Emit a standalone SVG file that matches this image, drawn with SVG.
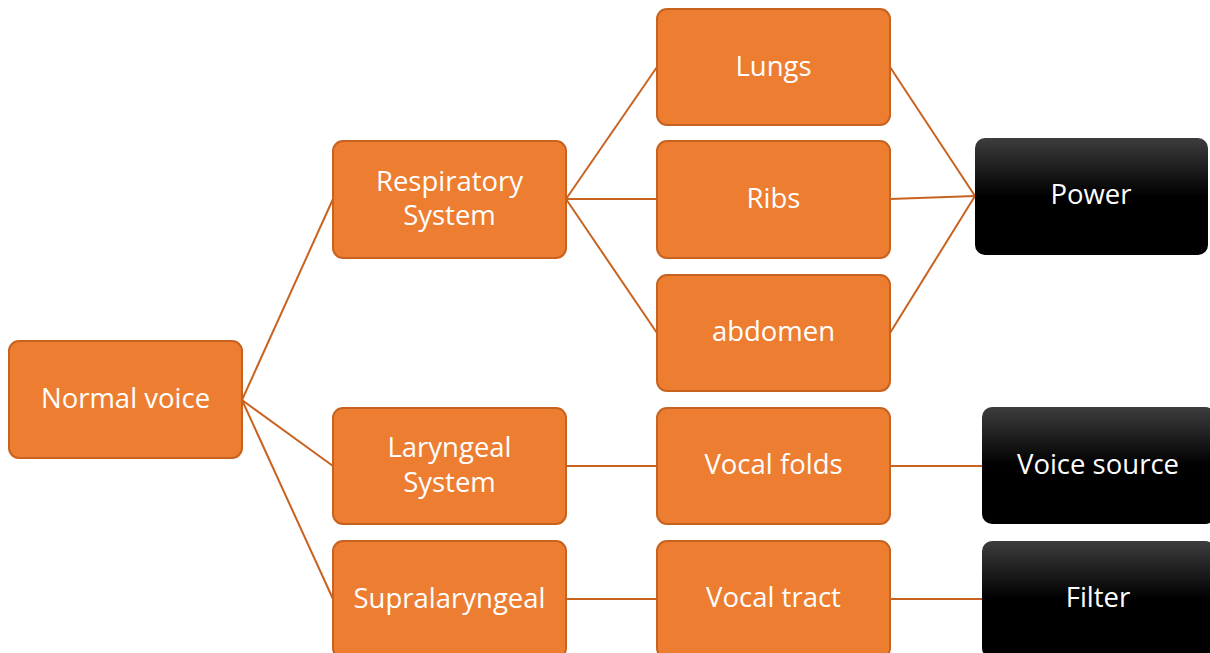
<svg xmlns="http://www.w3.org/2000/svg" width="1210" height="653" viewBox="0 0 1210 653">
<style>
.o{fill:#ED7D31;stroke:#C8621F;stroke-width:2}
.b{fill:url(#bg);stroke:none}
.t{font-family:"Open Sans","Noto Sans",sans-serif;font-size:27.5px;fill:#fff;text-anchor:middle;dominant-baseline:central}
.c line{stroke:#C8621F;stroke-width:2}
</style>
<defs>
<linearGradient id="bg" x1="0" y1="0" x2="0" y2="1">
<stop offset="0" stop-color="#3d3d3d"/>
<stop offset="0.5" stop-color="#000"/>
<stop offset="1" stop-color="#000"/>
</linearGradient>
</defs>
<rect width="1210" height="653" fill="#fff"/>
<g class="c" id="connectors">
<line x1="242" y1="400" x2="333" y2="199"/>
<line x1="242" y1="400" x2="333" y2="466"/>
<line x1="242" y1="400" x2="333" y2="599"/>
<line x1="566" y1="199" x2="657" y2="67"/>
<line x1="566" y1="199" x2="657" y2="199"/>
<line x1="566" y1="199" x2="657" y2="333"/>
<line x1="890" y1="67" x2="975" y2="196"/>
<line x1="890" y1="199" x2="975" y2="196"/>
<line x1="890" y1="333" x2="975" y2="196"/>
<line x1="566" y1="466" x2="657" y2="466"/>
<line x1="890" y1="466" x2="982" y2="466"/>
<line x1="566" y1="599" x2="657" y2="599"/>
<line x1="890" y1="599" x2="982" y2="599"/>
</g>
<g id="normal"><rect class="o" x="9" y="341" width="233" height="117" rx="10"/><text class="t" x="125.5" y="397">Normal voice</text></g>
<g id="resp"><rect class="o" x="333" y="141" width="233" height="117" rx="10"/><text class="t" x="449.5" y="180">Respiratory</text><text class="t" x="449.5" y="214">System</text></g>
<g id="lar"><rect class="o" x="333" y="408" width="233" height="116" rx="10"/><text class="t" x="449.5" y="446">Laryngeal</text><text class="t" x="449.5" y="481">System</text></g>
<g id="supra"><rect class="o" x="333" y="541" width="233" height="117" rx="10"/><text class="t" x="449.5" y="597">Supralaryngeal</text></g>
<g id="lungs"><rect class="o" x="657" y="9" width="233" height="116" rx="10"/><text class="t" x="773.5" y="65">Lungs</text></g>
<g id="ribs"><rect class="o" x="657" y="141" width="233" height="117" rx="10"/><text class="t" x="773.5" y="197">Ribs</text></g>
<g id="abdomen"><rect class="o" x="657" y="275" width="233" height="116" rx="10"/><text class="t" x="773.5" y="330">abdomen</text></g>
<g id="folds"><rect class="o" x="657" y="408" width="233" height="116" rx="10"/><text class="t" x="773.5" y="463">Vocal folds</text></g>
<g id="tract"><rect class="o" x="657" y="541" width="233" height="117" rx="10"/><text class="t" x="773.5" y="596">Vocal tract</text></g>
<g id="power"><rect class="b" x="975" y="138" width="233" height="117" rx="10"/><text class="t" x="1091" y="193">Power</text></g>
<g id="source"><rect class="b" x="982" y="407" width="233" height="117" rx="10"/><text class="t" x="1098" y="463">Voice source</text></g>
<g id="filter"><rect class="b" x="982" y="541" width="233" height="117" rx="10"/><text class="t" x="1098" y="596">Filter</text></g>
</svg>
